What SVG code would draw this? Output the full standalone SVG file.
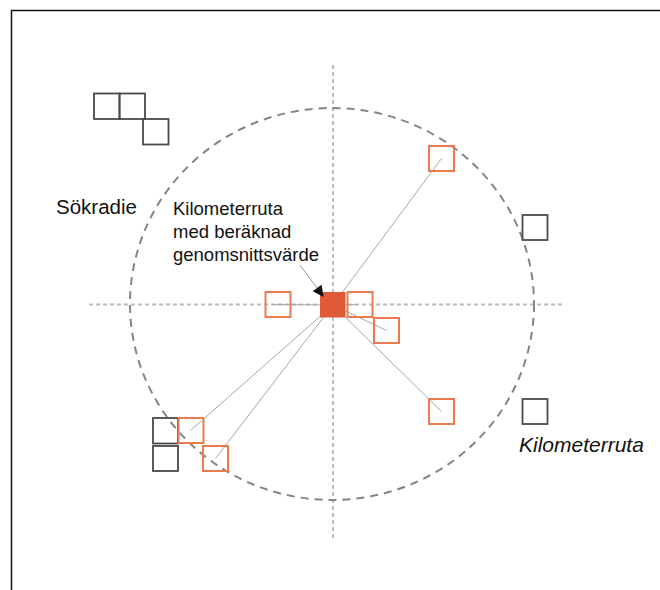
<svg xmlns="http://www.w3.org/2000/svg" width="660" height="590" viewBox="0 0 660 590">
<style>
.frame{fill:none;stroke:#111;stroke-width:1.5}
.axis{fill:none;stroke:#bdbdbd;stroke-width:2;stroke-dasharray:4 3}
.radius{fill:none;stroke:#858585;stroke-width:2;stroke-dasharray:8 6}
.conn{stroke:#a8a8a8;stroke-width:1;fill:none}
.ptr{stroke:#999;stroke-width:1;fill:none}
.cell{fill:none;stroke:#4a4a4a;stroke-width:1.8}
.sel{fill:none;stroke:#e87c50;stroke-width:2}
.avg{fill:#e05a3a;stroke:#e05a3a;stroke-width:1}
.lbl{font-family:"Liberation Sans",Arial,sans-serif;fill:#111}
</style>
<defs>
<marker id="ah" viewBox="0 0 10 10" refX="9" refY="5" markerWidth="13" markerHeight="11" markerUnits="userSpaceOnUse" orient="auto">
<path d="M0,0 L10,5 L0,10 z" fill="#111"/>
</marker>
</defs>
<rect class="frame" x="11.5" y="10.5" width="700" height="640"/>
<g id="axes">
<line class="axis" x1="333" y1="65" x2="333" y2="538"/>
<line class="axis" x1="89" y1="304.5" x2="563" y2="304.5"/>
</g>
<ellipse id="sokradie-circle" class="radius" cx="332" cy="304" rx="202" ry="196"/>
<g id="connectors">
<line class="conn" x1="333" y1="305" x2="441.5" y2="158.5"/>
<line class="conn" x1="333" y1="305" x2="386.5" y2="330.5"/>
<line class="conn" x1="333" y1="305" x2="441.5" y2="411.5"/>
<line class="conn" x1="333" y1="305" x2="190.5" y2="430.5"/>
<line class="conn" x1="333" y1="305" x2="215.5" y2="458.5"/>
<line class="conn" x1="333" y1="305" x2="273" y2="304.5"/>
<line class="conn" x1="333" y1="305" x2="358" y2="304.5"/>
</g>
<g id="cells-topleft">
<rect class="cell" x="94" y="93.5" width="25.5" height="25.5"/>
<rect class="cell" x="119.5" y="93.5" width="25.5" height="25.5"/>
<rect class="cell" x="143" y="119" width="25.5" height="25.5"/>
</g>
<g id="cell-right-top"><rect class="cell" x="522.5" y="215" width="25" height="25"/></g>
<g id="cell-right-bottom"><rect class="cell" x="522.5" y="399" width="25" height="25"/></g>
<g id="cells-bottomleft">
<rect class="cell" x="153" y="418" width="25" height="25.5"/>
<rect class="cell" x="153" y="446" width="25" height="25"/>
</g>
<g id="sel-1"><rect class="sel" x="429" y="146" width="25" height="25"/></g>
<g id="sel-2"><rect class="sel" x="265.5" y="292" width="25" height="25"/></g>
<g id="sel-3"><rect class="sel" x="347.5" y="292" width="25" height="25"/></g>
<g id="sel-4"><rect class="sel" x="374" y="318" width="25" height="25"/></g>
<g id="sel-5"><rect class="sel" x="429" y="399" width="25" height="25"/></g>
<g id="sel-6"><rect class="sel" x="178.5" y="418" width="25" height="25"/></g>
<g id="sel-7"><rect class="sel" x="203" y="446" width="25" height="25"/></g>
<g id="avg-cell"><rect class="avg" x="320.5" y="292.5" width="24.5" height="24.5"/></g>
<g id="pointer">
<line class="ptr" x1="300" y1="265" x2="323" y2="296" marker-end="url(#ah)"/>
</g>
<g id="label-sokradie"><text class="lbl" x="56" y="214" font-size="20.5">Sökradie</text></g>
<g id="label-avg">
<text class="lbl" x="173" y="215" font-size="18.5">Kilometerruta</text>
<text class="lbl" x="173" y="238" font-size="18.5">med beräknad</text>
<text class="lbl" x="173" y="261" font-size="18.5">genomsnittsvärde</text>
</g>
<g id="label-km"><text class="lbl" x="519" y="452" font-size="21" font-style="italic">Kilometerruta</text></g>
</svg>
